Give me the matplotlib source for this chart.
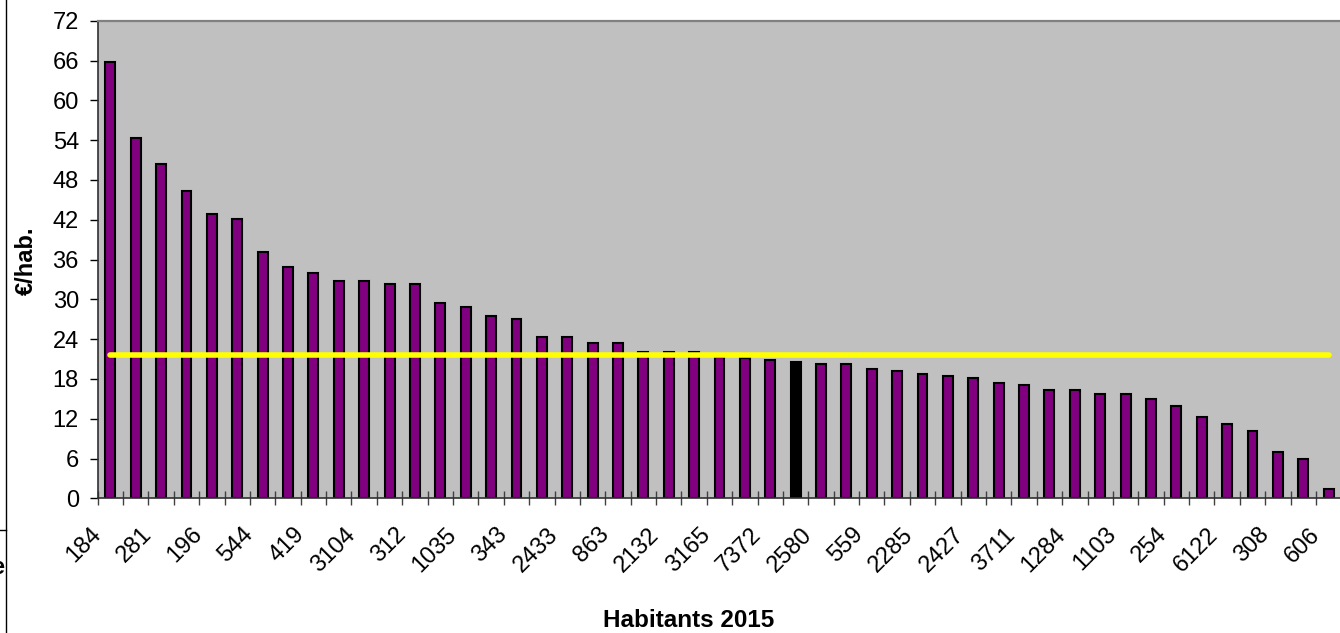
import matplotlib
matplotlib.use("Agg")
import matplotlib.pyplot as plt
from matplotlib.lines import Line2D
import numpy as np

plt.rcParams['font.family'] = ['Liberation Sans', 'DejaVu Sans']

# Data (49 communes, sorted by €/hab.)
values = [65.7, 54.3, 50.4, 46.3, 42.8, 42.1, 37.2, 34.8, 34.0, 32.7,
          32.7, 32.3, 32.3, 29.5, 28.9, 27.5, 27.1, 24.3, 24.3, 23.4,
          23.4, 22.0, 22.0, 22.0, 21.3, 21.1, 20.85, 20.6, 20.2, 20.2,
          19.5, 19.2, 18.8, 18.5, 18.1, 17.4, 17.1, 16.4, 16.4, 15.7,
          15.7, 15.0, 13.9, 12.2, 11.2, 10.1, 7.0, 5.9, 1.45]
highlight_index = 27          # black bar (the commune of interest)
average_value = 21.6          # yellow average line
label_texts = ['184', '281', '196', '544', '419', '3104', '312', '1035', '343',
               '2433', '863', '2132', '3165', '7372', '2580', '559', '2285',
               '2427', '3711', '1284', '1103', '254', '6122', '308', '606']
y_ticks = [0, 6, 12, 18, 24, 30, 36, 42, 48, 54, 60, 66, 72]

W, H = 1340, 633
fig = plt.figure(figsize=(W / 100, H / 100), dpi=100)
left, right, top, bottom = 97.7, 1341.3, 20.7, 498.3
ax = fig.add_axes([left / W, (H - bottom) / H, (right - left) / W, (bottom - top) / H])
ax.set_facecolor('#C0C0C0')

n = len(values)
x = np.arange(n)
colors = ['#800080'] * n
colors[highlight_index] = '#000000'
ax.bar(x, values, width=0.39, color=colors, edgecolor='black', linewidth=1.5, zorder=2)
ax.plot(x, [average_value] * n, color='#FFFF00', linewidth=4, solid_capstyle='round', zorder=3)

ax.set_xlim(-0.5, n - 0.5)
ax.set_ylim(0, 72)
ax.set_yticks(y_ticks)
ax.set_yticklabels([str(t) for t in y_ticks], fontsize=17)
ax.tick_params(axis='y', direction='out', length=5.8, width=1, color='black', pad=7.7)

# category boundary ticks
ax.set_xticks(np.arange(n + 1) - 0.5)
ax.set_xticklabels([])
ax.tick_params(axis='x', direction='inout', length=9.5, width=1, color='#404040')
# category labels (every other)
px_per_unit_x = (right - left) / n
px_per_unit_y = (bottom - top) / 72
label_pos = np.arange(0, n, 2)
for pos, txt in zip(label_pos, label_texts):
    ax.text(pos - 12.5 / px_per_unit_x, -33 / px_per_unit_y, txt, rotation=45,
            rotation_mode='anchor', ha='right', va='center', fontsize=17,
            transform=ax.transData, clip_on=False)

for side in ['top', 'right']:
    ax.spines[side].set_color('#808080')
    ax.spines[side].set_linewidth(1.6)
ax.spines['left'].set_color('#303030')
ax.spines['bottom'].set_color('#303030')
ax.spines['left'].set_linewidth(1.2)
ax.spines['bottom'].set_linewidth(1.2)

fig.text(38 / W, 1 - 261 / H, '€/hab.', rotation=90, fontsize=17, fontweight='bold',
         ha='right', va='center')
fig.text(689 / W, 1 - 627.3 / H, 'Habitants 2015', fontsize=17.5, fontweight='bold',
         ha='center', va='baseline')

# left border remnants of the original sheet
fig.add_artist(Line2D([5.5 / W, 5.5 / W], [0, 1], color='black', linewidth=1))
fig.add_artist(Line2D([0, 5.5 / W], [1 - 530 / H, 1 - 530 / H], color='black', linewidth=1))
fig.text(4 / W, 1 - 568 / H, 'e', fontsize=17, fontweight='bold', ha='right', va='center')

fig.savefig('out.png', dpi=100)
